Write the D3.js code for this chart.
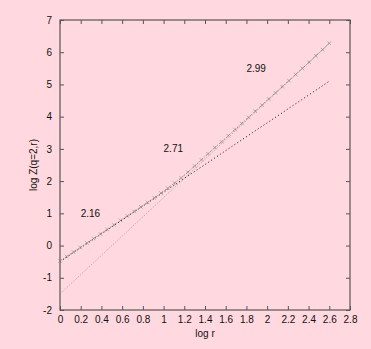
<!DOCTYPE html>
<html>
<head>
<meta charset="utf-8">
<script src="https://cdn.jsdelivr.net/npm/d3@7"></script>
<style>
  body { margin: 0; background: #ffd9df; }
  text { font-family: "Liberation Sans", Arial, sans-serif; font-size: 10px; fill: #111; }
</style>
</head>
<body>
<svg id="chart" width="371" height="349"></svg>
<script>
// log r values of the measured points
const logR = [0, 0.065, 0.13, 0.195, 0.26, 0.325, 0.39, 0.455, 0.52, 0.585, 0.65,
  0.715, 0.78, 0.845, 0.91, 0.975, 1.04, 1.105, 1.17, 1.235, 1.3, 1.365, 1.43,
  1.495, 1.56, 1.625, 1.69, 1.755, 1.82, 1.885, 1.95, 2.015, 2.08, 2.145, 2.21,
  2.275, 2.34, 2.405, 2.47, 2.535, 2.6]
// log Z(q=2,r)
const logZ = [-0.48, -0.34, -0.20, -0.06, 0.08, 0.22, 0.36, 0.50, 0.64, 0.78, 0.92,
  1.06, 1.20, 1.34, 1.48, 1.63, 1.78, 1.94, 2.10, 2.28, 2.47, 2.66, 2.85,
  3.04, 3.22, 3.41, 3.60, 3.79, 3.98, 4.17, 4.36, 4.55, 4.74, 4.93, 5.12,
  5.31, 5.50, 5.69, 5.89, 6.08, 6.28]

// fitted lines: [x, y] end points
const fitLow = [[0, -0.5], [2.6, 5.1]]     // slope 2.16
const fitHigh = [[0, -1.5], [2.6, 6.27]]   // slope 2.99

const slopeLabels = [
  { text: "2.16", x: 0.2, y: 1.0 },
  { text: "2.71", x: 1.0, y: 3.0 },
  { text: "2.99", x: 1.8, y: 5.5 }
]
const xTicks = [0, 0.2, 0.4, 0.6, 0.8, 1, 1.2, 1.4, 1.6, 1.8, 2, 2.2, 2.4, 2.6, 2.8]
const yTicks = [-2, -1, 0, 1, 2, 3, 4, 5, 6, 7]

const svg = d3.select("#chart")
const margin = { top: 20, right: 21, bottom: 39, left: 60 }
const width = +svg.attr("width") - margin.left - margin.right
const height = +svg.attr("height") - margin.top - margin.bottom

const g = svg.append("g").attr("transform", `translate(${margin.left},${margin.top})`)

const x = d3.scaleLinear().domain([0, 2.8]).range([0, width])
const y = d3.scaleLinear().domain([-2, 7]).range([height, 0])

const axisColor = "#555"
const plain = d => String(d)   // keep ascii hyphen for negatives

function styleAxis(sel) {
  sel.select(".domain").remove()
  sel.selectAll(".tick line").attr("stroke", axisColor)
  sel.selectAll(".tick text").style("font-size", "10px")
}

g.append("g").attr("transform", `translate(0,${height})`)
  .call(d3.axisBottom(x).tickValues(xTicks).tickFormat(plain).tickSize(-4).tickPadding(6))
  .call(styleAxis)
g.append("g")
  .call(d3.axisTop(x).tickValues(xTicks).tickFormat("").tickSize(-4))
  .call(styleAxis)
g.append("g")
  .call(d3.axisLeft(y).tickValues(yTicks).tickFormat(plain).tickSize(-4).tickPadding(8))
  .call(styleAxis)
g.append("g").attr("transform", `translate(${width},0)`)
  .call(d3.axisRight(y).tickValues(yTicks).tickFormat("").tickSize(-4))
  .call(styleAxis)

g.append("rect")
  .attr("width", width).attr("height", height)
  .attr("fill", "none").attr("stroke", axisColor).attr("stroke-width", 1.2)

const line = d3.line().x(d => x(d[0])).y(d => y(d[1]))

g.append("path").datum(fitHigh)
  .attr("d", line).attr("fill", "none")
  .attr("stroke", "#8a8a8a").attr("stroke-width", 0.7).attr("stroke-dasharray", "1,1.5")

g.append("path").datum(fitLow)
  .attr("d", line).attr("fill", "none")
  .attr("stroke", "#111").attr("stroke-width", 1).attr("stroke-dasharray", "1,2.5")

const pts = logR.map((r, i) => [r, logZ[i]])

g.append("path").datum(pts)
  .attr("d", line).attr("fill", "none")
  .attr("stroke", "#777").attr("stroke-width", 0.8).attr("stroke-dasharray", "2,1.5,1,1.5")

g.selectAll(".pt").data(pts).enter().append("path")
  .attr("class", "pt")
  .attr("transform", d => `translate(${x(d[0])},${y(d[1])}) rotate(45)`)
  .attr("d", "M-2.5,0H2.5M0,-2.5V2.5")
  .attr("fill", "none").attr("stroke", "#888").attr("stroke-width", 0.6)

g.selectAll(".slope").data(slopeLabels).enter().append("text")
  .attr("x", d => x(d.x)).attr("y", d => y(d.y))
  .attr("dy", "0.35em")
  .text(d => d.text)

svg.append("text")
  .attr("x", margin.left + width / 2).attr("y", 337)
  .attr("text-anchor", "middle")
  .text("log r")

svg.append("text")
  .attr("transform", `translate(37,${margin.top + height / 2}) rotate(-90)`)
  .attr("text-anchor", "middle")
  .text("log Z(q=2,r)")
</script>
</body>
</html>
